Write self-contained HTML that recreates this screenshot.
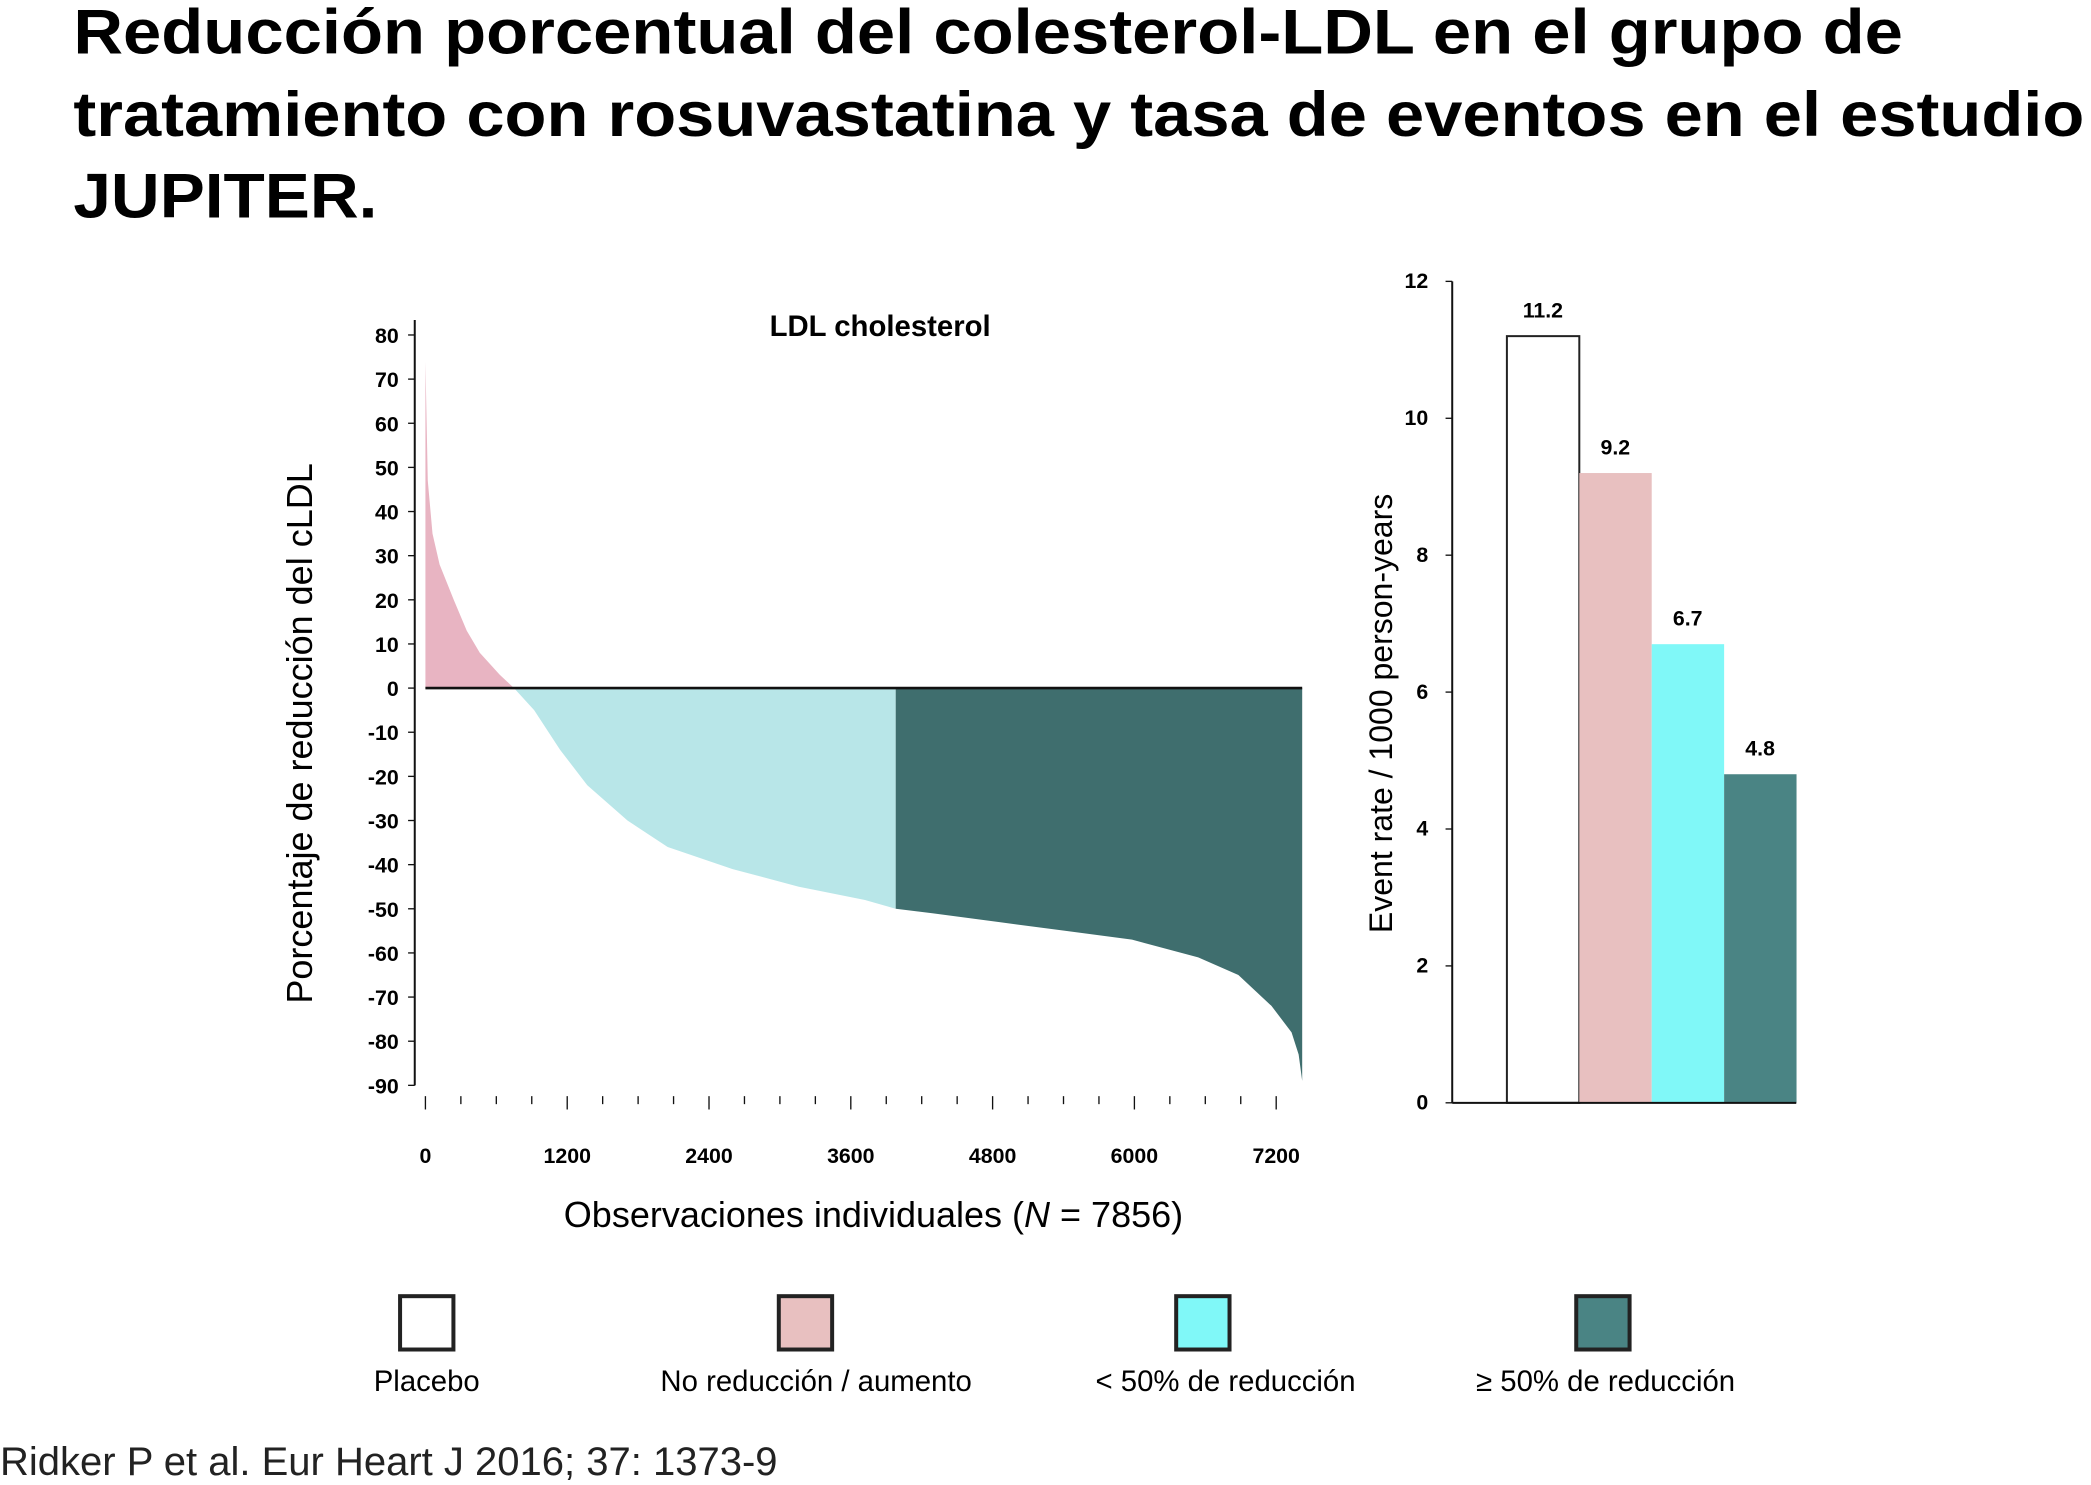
<!DOCTYPE html>
<html><head><meta charset="utf-8"><style>
html,body{margin:0;padding:0;background:#fff;}
svg{display:block;font-family:"Liberation Sans",sans-serif;}
</style></head><body>
<svg id="s" width="2091" height="1485" viewBox="0 0 1568 1113.6" xmlns="http://www.w3.org/2000/svg">
<g font-weight="bold" font-size="47" fill="#000">
<text x="55" y="40" textLength="1372" lengthAdjust="spacingAndGlyphs">Reducción porcentual del colesterol-LDL en el grupo de</text>
<text x="55" y="102" textLength="1508" lengthAdjust="spacingAndGlyphs">tratamiento con rosuvastatina y tasa de eventos en el estudio</text>
<text x="55" y="163" textLength="228" lengthAdjust="spacingAndGlyphs">JUPITER.</text>
</g>
<g id="left"></g>
<g id="right"></g>
<g font-size="22" text-anchor="middle">
<g><rect x="300" y="972" width="40" height="40" fill="#fff" stroke="#222" stroke-width="3"/><text x="320" y="1043">Placebo</text></g>
<g><rect x="584" y="972" width="40" height="40" fill="#e8c0c0" stroke="#222" stroke-width="3"/><text x="612" y="1043">No reducción / aumento</text></g>
<g><rect x="882" y="972" width="40" height="40" fill="#80f8f8" stroke="#222" stroke-width="3"/><text x="919" y="1043">&lt; 50% de reducción</text></g>
<g><rect x="1182" y="972" width="40" height="40" fill="#4a8484" stroke="#222" stroke-width="3"/><text x="1204" y="1043">≥ 50% de reducción</text></g>
</g>
<text x="0" y="1106" font-size="30" fill="#222">Ridker P et al. Eur Heart J 2016; 37: 1373-9</text>
</svg>
<script>
// Left chart data
const obsIndex=[0,20,60,120,240,350,460,630,750,920,1140,1370,1710,2050,2600,3160,3720,3980,4290,4850,5420,5980,6540,6880,7160,7330,7390,7420];
const ldlChange=[74,47,35,28,20,13,8,3,0,-5,-14,-22,-30,-36,-41,-45,-48,-50,-51,-53,-55,-57,-61,-65,-72,-78,-83,-89];
const yTicks=[80,70,60,50,40,30,20,10,0,-10,-20,-30,-40,-50,-60,-70,-80,-90];
const xTicks=[0,1200,2400,3600,4800,6000,7200];
// Right chart data
const groups=["Placebo","No reducción / aumento","< 50% de reducción","≥ 50% de reducción"];
const rates=[11.2,9.2,6.7,4.8];
const rateTicks=[0,2,4,6,8,10,12];

const NS="http://www.w3.org/2000/svg";
function mk(p,t,a,txt){const e=document.createElementNS(NS,t);for(const k in a)e.setAttribute(k,a[k]);if(txt!=null)e.textContent=txt;p.appendChild(e);return e;}
const L=document.getElementById('left'),R=document.getElementById('right');
const xS=v=>319+v*(638/7200), yS=v=>516-v*3.31;
function area(filter,color,name){
  const idx=[];
  for(let i=0;i<obsIndex.length;i++) if(filter(ldlChange[i]))idx.push(i);
  if(!idx.length)return;
  let d=`M${xS(obsIndex[idx[0]])},${yS(0)}`;
  idx.forEach(i=>{d+=` L${xS(obsIndex[i])},${yS(ldlChange[i])}`;});
  d+=` L${xS(obsIndex[idx[idx.length-1]])},${yS(0)} Z`;
  const e=mk(L,'path',{d,fill:color});
  
  
}
area((v)=>v>=0,'#e8b4c2','area-increase');
area((v)=>v<=0&&v>=-50,'#b8e6e8','area-under-50');
area((v)=>v<=-50,'#3f6e6e','area-over-50');
mk(L,'line',{x1:319,y1:yS(0),x2:xS(7420),y2:yS(0),stroke:'#111','stroke-width':2});
mk(L,'line',{x1:311,y1:240,x2:311,y2:yS(-90),stroke:'#111','stroke-width':1.5});
yTicks.forEach(v=>{mk(L,'line',{x1:306,y1:yS(v),x2:311,y2:yS(v),stroke:'#111'});
 const t=mk(L,'text',{x:299,y:yS(v)+6,'font-size':16,'text-anchor':'end','font-weight':'bold'},v);
 });
for(let v=0;v<=7400;v+=300){mk(L,'line',{x1:xS(v),y1:822,x2:xS(v),y2:v%1200==0?832:828,stroke:'#111'});}
xTicks.forEach(v=>{const t=mk(L,'text',{x:xS(v),y:872,'font-size':16,'text-anchor':'middle','font-weight':'bold'},v);
 });
let t=mk(L,'text',{x:660,y:252,'font-size':22,'text-anchor':'middle','font-weight':'bold'},'LDL cholesterol');

t=mk(L,'text',{x:655,y:920,'font-size':27,'text-anchor':'middle'});t.innerHTML='Observaciones individuales (<tspan font-style="italic">N</tspan> = 7856)';

t=mk(L,'text',{x:0,y:0,'font-size':27,'text-anchor':'middle',transform:'translate(234,550) rotate(-90)'},'Porcentaje de reducción del cLDL');

// right chart
const ry=v=>827-v*(616/12);
const colors=['#ffffff','#e8c0c0','#80f8f8','#4a8484'];
rates.forEach((v,i)=>{const x=1130+i*54.3;
 const b=mk(R,'rect',{x,y:ry(v),width:54.3,height:827-ry(v),fill:colors[i],stroke:i==0?'#222':'none','stroke-width':1.5});
 
 const l=mk(R,'text',{x:x+27,y:ry(v)-14,'font-size':16,'text-anchor':'middle','font-weight':'bold'},v.toFixed(1));
 });
mk(R,'line',{x1:1089,y1:ry(12),x2:1089,y2:827,stroke:'#111','stroke-width':1.5});
mk(R,'line',{x1:1089,y1:827,x2:1347,y2:827,stroke:'#111','stroke-width':1.5});
rateTicks.forEach(v=>{mk(R,'line',{x1:1084,y1:ry(v),x2:1089,y2:ry(v),stroke:'#111'});
 const l=mk(R,'text',{x:1071,y:ry(v)+5,'font-size':16,'text-anchor':'end','font-weight':'bold'},v);
 });
t=mk(R,'text',{x:0,y:0,'font-size':24,'text-anchor':'middle',transform:'translate(1044,535) rotate(-90)'},'Event rate / 1000 person-years');

</script>
</body></html>
